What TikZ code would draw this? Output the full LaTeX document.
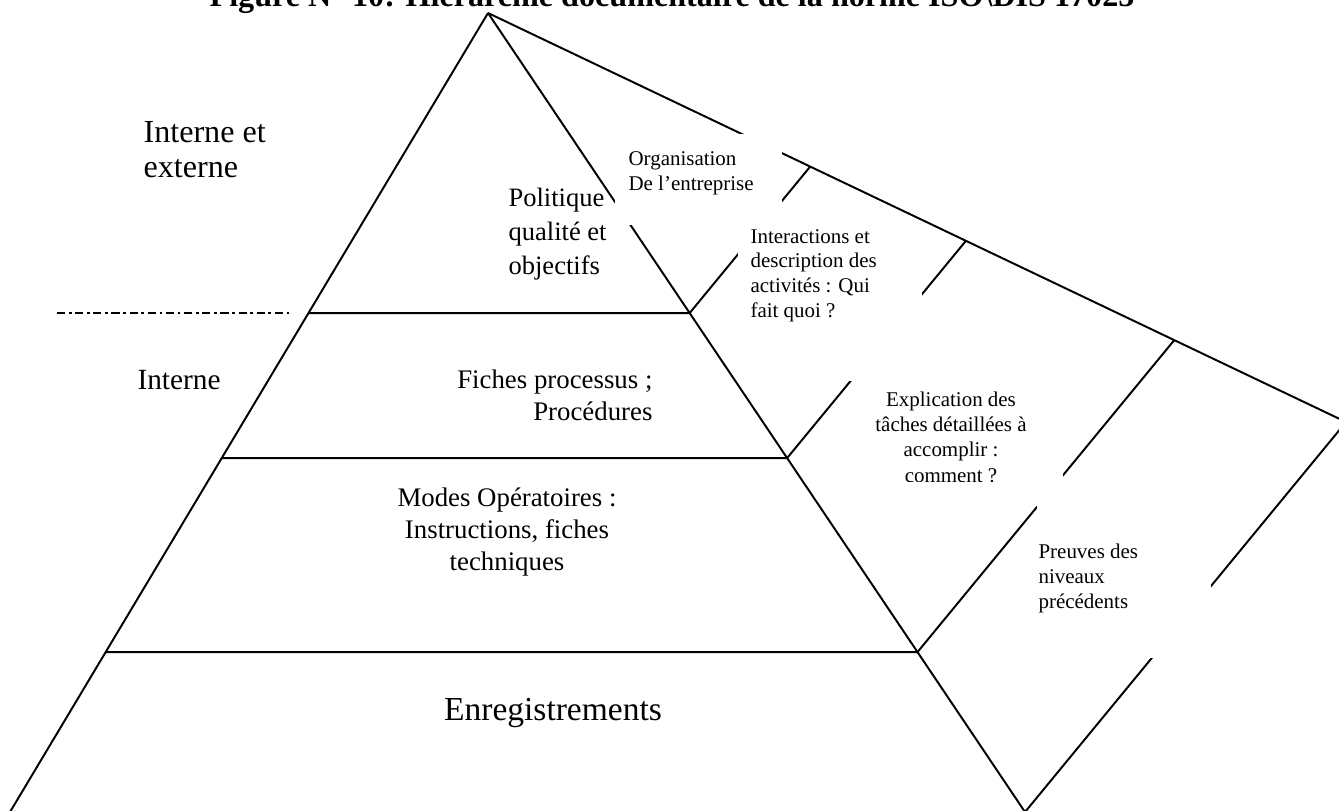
\documentclass[tikz,border=0pt]{standalone}
\usepackage{fontspec}
\setmainfont{Liberation Serif}
\usetikzlibrary{positioning,calc}

\begin{document}
\begin{tikzpicture}[x=0.358pt,y=-0.358pt]
  \tikzstyle{every node}=[inner sep=0pt, font=\fontsize{12}{12.5}\selectfont]
  \tikzstyle{moyen}=[font=\fontsize{9.6}{11.5}\selectfont]
  \tikzstyle{petit}=[font=\fontsize{7.5}{8.8}\selectfont]
  \tikzstyle{trait}=[line width=0.7pt]
  \tikzstyle{cache}=[fill=white]
  \useasboundingbox (0,0) rectangle (1339,810);
  \clip (0,0) rectangle (1339,810);
  % \draw [step=100,blue, very thin] (0,0) grid (1339,810);
  \coordinate (top) at (488,13);
  \coordinate (bl) at (10,812);
  \coordinate (br) at (1025,812);
  \coordinate (back) at (1346,422);
  \foreach \t/\n in {0.3755/1,0.557/2,0.7998/3} {
    \coordinate (l\n) at ($(top)!\t!(bl)$);
    \coordinate (r\n) at ($(top)!\t!(br)$);
    \coordinate (b\n) at ($(top)!\t!(back)$);
  }

  \draw [trait] (top) -- (bl);
  \draw [trait] (top) -- (br);
  \draw [trait] (top) -- (back);
  \draw [trait] (br) -- (back);
  \foreach \n in {1,2,3} {
    \draw [trait] (l\n) -- (r\n) -- (b\n);
  }
  \draw [trait, dash pattern=on 2.9pt off 1.3pt on 1pt off 1.3pt] (57,313) -- (293,313);

  % zones blanches des textes de la face droite
  \fill [cache] (615,134) rectangle (782,225);
  \fill [cache] (738,224) rectangle (922,381);
  \fill [cache] (860,385) rectangle (1063,506);
  \fill [cache] (1037,506) rectangle (1211,658);

  \node [anchor=base, font=\fontsize{11.5}{12}\selectfont\bfseries] (titre) at (672,6) {Figure N° 10: Hiérarchie documentaire de la norme ISO\textbackslash DIS 17025};
  \node [anchor=west, align=left, font=\fontsize{11.5}{12.5}\selectfont] (ext) at (143,150) {Interne et\\externe};
  \node [anchor=west, align=left, font=\fontsize{9.5}{12.2}\selectfont] (pol) at (508,234) {Politique\\qualité et\\objectifs};
  \node [petit, anchor=base west, align=left] (org) at (628,190) {Organisation\\De l’entreprise};
  \node [petit, anchor=base west, align=left] (inter) at (750,317) {Interactions et\\description des\\activités : Qui\\fait quoi ?};
  \node [anchor=west, font=\fontsize{10.5}{12}\selectfont] (int) at (137,380) {Interne};
  \node [moyen, anchor=east, align=right] (fich) at (653,395) {Fiches processus ;\\Procédures};
  \node [moyen, align=center] (modes) at (507,532) {Modes Opératoires :\\Instructions, fiches\\techniques};
  \begin{scope}
    \clip (860,385) rectangle (1063,481);
    \node [petit, anchor=base, align=center, font=\fontsize{7.5}{9}\selectfont] (expl) at (951,482) {Explication des\\tâches détaillées à\\accomplir :\\comment ?};
  \end{scope}
  \node [petit, anchor=base west, align=left] (preu) at (1038,608) {Preuves des\\niveaux\\précédents};
  \node (enr) at (553,713) {Enregistrements};
\end{tikzpicture}
\end{document}
